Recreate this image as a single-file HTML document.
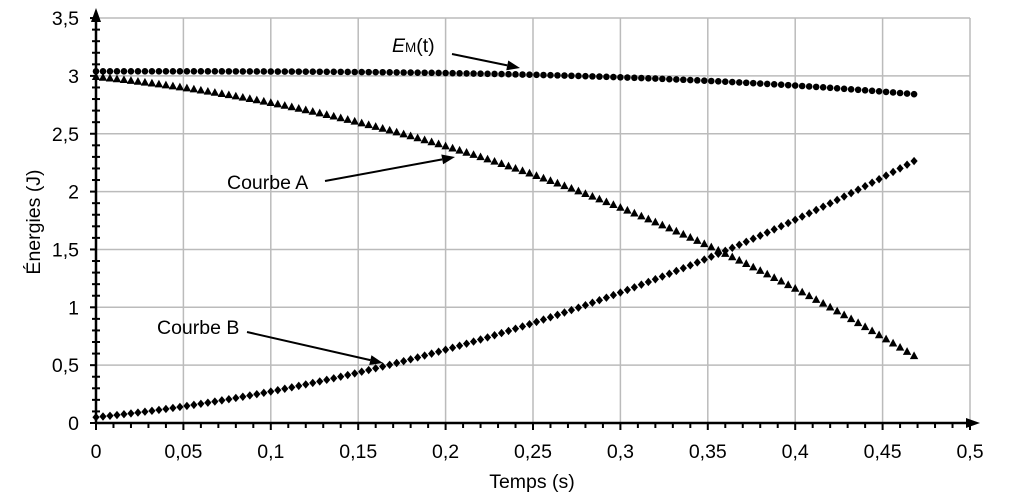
<!DOCTYPE html><html><head><style>body{margin:0;background:#fff}svg{display:block}text{font-family:"Liberation Sans",Arial,sans-serif;fill:#000}</style></head><body>
<svg id="s" width="1024" height="499" xmlns="http://www.w3.org/2000/svg"></svg>
<script>
const s=document.getElementById('s');let h='';
const X=t=>96+t*1748, Y=v=>423-v*115.7;
for(let i=1;i<=10;i++){h+=`<line x1="${X(i*0.05)}" y1="18" x2="${X(i*0.05)}" y2="423" stroke="#bbb" stroke-width="1.5"/>`;}
for(let i=1;i<=7;i++){h+=`<line x1="96" y1="${Y(i*0.5)}" x2="970" y2="${Y(i*0.5)}" stroke="#bbb" stroke-width="1.5"/>`;}
for(let i=0;i<=50;i++){let x=X(i*0.01);h+=`<line x1="${x}" y1="423" x2="${x}" y2="${i%5?428:430}" stroke="#000" stroke-width="2"/>`;}
for(let i=0;i<=35;i++){let y=Y(i*0.1);h+=`<line x1="${i%5?92:90}" y1="${y}" x2="${i%5?100:96}" y2="${y}" stroke="#000" stroke-width="2"/>`;}
h+=`<line x1="96" y1="423" x2="96" y2="12" stroke="#000" stroke-width="2.5"/><path d="M96,8 L91,22 L101,22Z"/>`;
h+=`<line x1="96" y1="423" x2="975" y2="423" stroke="#000" stroke-width="2.5"/><path d="M980,423 L966,418 L966,428Z"/>`;
for(let i=0;i<=7;i++){h+=`<text x="79" y="${Y(i*0.5)+7}" font-size="19.5" text-anchor="end">${String(i*0.5).replace('.',',')}</text>`;}
for(let i=0;i<=10;i++){h+=`<text x="${X(i*0.05)}" y="458" font-size="19.5" text-anchor="middle">${i==0?'0':String(+(i*0.05).toFixed(2)).replace('.',',')}</text>`;}
h+=`<text x="532" y="488" font-size="19.5" text-anchor="middle">Temps (s)</text>`;
h+=`<text transform="translate(40,222) rotate(-90)" font-size="19.5" text-anchor="middle">Énergies (J)</text>`;
for(let t=0;t<=0.4701;t+=0.004){
 let b=Math.pow(0.2236+2.737*t,2)+0.04*Math.sin(Math.PI*t/0.47), em=3.04-1.93*t*t*t, a=em-b;
 let x=X(t);
 h+=`<circle cx="${x}" cy="${Y(em)}" r="3.3"/>`;
 let ya=Y(a);h+=`<path d="M${x},${ya-4.7} L${x-4.2},${ya+3} L${x+4.2},${ya+3}Z"/>`;
 let yb=Y(b);h+=`<path d="M${x},${yb-4.2} L${x+3.6},${yb} L${x},${yb+4.2} L${x-3.6},${yb}Z"/>`;
}
function arr(x1,y1,x2,y2){let a=Math.atan2(y2-y1,x2-x1),L=13,w=5;let bx=x2-L*Math.cos(a),by=y2-L*Math.sin(a);
h+=`<line x1="${x1}" y1="${y1}" x2="${bx}" y2="${by}" stroke="#000" stroke-width="2"/><path d="M${x2},${y2} L${bx+w*Math.sin(a)},${by-w*Math.cos(a)} L${bx-w*Math.sin(a)},${by+w*Math.cos(a)}Z"/>`;}
h+=`<text x="392" y="52" font-size="19.5"><tspan font-style="italic">E</tspan><tspan font-size="13.5">M</tspan>(t)</text>`;arr(452,54,520,68);
h+=`<text x="227" y="189" font-size="19.5">Courbe A</text>`;arr(325,181,455,157);
h+=`<text x="157" y="334" font-size="19.5">Courbe B</text>`;arr(247,332,383,363);
s.innerHTML=h;
</script></body></html>
